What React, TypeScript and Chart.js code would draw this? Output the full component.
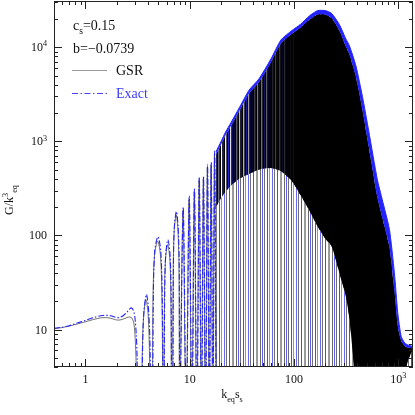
import React, { useEffect, useRef } from "react";
import { Chart, registerables } from "chart.js";
Chart.register(...registerables);

// ---- data ----
const gsrX = [0.5, 0.6, 0.7, 0.85, 1.0, 1.2, 1.4, 1.55, 1.75, 1.95, 2.1, 2.3, 2.5, 2.65, 2.8, 2.92, 3.0, 3.06, 3.12,
  3.42, 3.5, 3.6, 3.8, 4.0, 4.12, 4.2,
  4.35, 4.45, 4.6, 4.93, 5.25, 5.42, 5.55,
  5.62, 5.72, 5.85, 6.15, 6.45, 6.6, 6.7,
  6.82, 6.95, 7.1, 7.42, 7.72, 7.9, 8.0,
  8.62, 9.22, 9.85, 10.45, 11.05, 11.67, 12.3, 12.9, 13.5, 14.12, 14.75, 15.37, 16.0, 16.62, 17.25, 17.9];
const gsrY = [10.2, 10.5, 10.9, 11.5, 12.1, 12.8, 13.3, 13.4, 13.2, 12.7, 12.6, 12.9, 13.4, 13.6, 13.2, 11.5, 8.0, 4.5, 1,
  1, 5, 13, 20.8, 14, 5, 1,
  1, 22, 62, 87, 60, 20, 1,
  1, 20, 55, 80, 55, 20, 1,
  1, 45, 115, 165, 110, 40, 1,
  185, 1, 240, 1, 290, 1, 390, 1, 400, 1, 530, 1, 560, 1, 740, 1];

const exactX = [0.5, 0.6, 0.7, 0.85, 1.0, 1.2, 1.4, 1.55, 1.75, 1.95, 2.1, 2.3, 2.5, 2.65, 2.75, 2.88, 2.98, 3.07, 3.13, 3.2,
  3.45, 3.53, 3.63, 3.85, 4.05, 4.17, 4.25,
  4.38, 4.48, 4.63, 4.96, 5.28, 5.45, 5.58,
  5.65, 5.75, 5.88, 6.18, 6.48, 6.63, 6.73,
  6.85, 6.98, 7.13, 7.45, 7.75, 7.93, 8.03,
  8.66, 9.26, 9.9, 10.5, 11.1, 11.72, 12.35, 12.95, 13.56, 14.18, 14.82, 15.43, 16.07, 16.68, 17.32, 17.96];
const exactY = [10.3, 10.6, 11.0, 11.8, 12.5, 13.4, 14.0, 14.2, 14.0, 13.5, 13.4, 14.0, 15.3, 16.5, 17.0, 16.0, 13.5, 9, 5, 1,
  1, 6, 15, 23.6, 15, 6, 1,
  1, 25, 70, 97, 68, 22, 1,
  1, 22, 62, 90, 62, 22, 1,
  1, 50, 125, 180, 120, 45, 1,
  200, 1, 260, 1, 315, 1, 420, 1, 430, 1, 570, 1, 600, 1, 790, 1];

// dense (unresolved) oscillation region: envelopes
const envX = [17.9, 20, 22, 25, 30, 37, 46, 60, 75, 95, 115, 140, 168, 200, 230, 272, 310, 340, 392, 452, 520, 628, 700, 820, 915, 985, 1062, 1150, 1220, 1380];
const exactEnvY = [780, 1000, 1250, 1600, 2300, 3500, 4600, 7500, 12000, 15000, 17500, 21500, 24500, 24500, 22800, 17400, 12600, 10300, 6300, 3000, 1280, 393, 240, 116, 40, 15.2, 8.5, 7.2, 6.9, 6.6];
const gsrEnvY = [730, 930, 1160, 1480, 2130, 3230, 4250, 6900, 11000, 13800, 16100, 19600, 22300, 22200, 20300, 15000, 10500, 8300, 4800, 2150, 870, 255, 155, 75, 26, 10.8, 7.6, 6.7, 6.45, 6.3];
const denseFloorY = [200, 250, 290, 340, 400, 450, 500, 520, 480, 380, 270, 185, 125, 92, 76, 40, 24, 13, 3, 3, 3, 3, 3, 3, 3, 3, 3, 3, 4.5, 6.2];

const xMajorTicks = [1, 10, 100, 1000];
const xTickBase = ["1", "10", "100", "10"];
const xTickSup = ["", "", "", "3"];
const yMajorTicks = [10, 100, 1000, 10000];
const yTickBase = ["10", "100", "10", "10"];
const yTickSup = ["", "", "3", "4"];

const X_MIN = 0.5, X_MAX = 1380, Y_MIN = 4, Y_MAX = 31000;
const SERIF = '"Liberation Serif", "DejaVu Serif", serif';
const BLUE = "rgb(35,35,255)";

const pts = (xs: number[], ys: number[]) => xs.map((x, i) => ({ x, y: ys[i] }));

function stripePattern(cols: (string | null)[]) {
  const c = document.createElement("canvas");
  c.width = cols.length;
  c.height = 1;
  const g = c.getContext("2d")!;
  cols.forEach((col, i) => {
    if (col) { g.fillStyle = col; g.fillRect(i, 0, 1, 1); }
  });
  return g.createPattern(c, "repeat")!;
}

function textWithScripts(ctx: CanvasRenderingContext2D, parts: { t: string; s?: "sub" | "sup" }[], x: number, y: number, size: number, align: "left" | "center" | "right") {
  const small = size * 0.68;
  let total = 0;
  const widths = parts.map(p => {
    ctx.font = `${p.s ? small : size}px ${SERIF}`;
    const w = ctx.measureText(p.t).width;
    total += w;
    return w;
  });
  let cx = align === "left" ? x : align === "center" ? x - total / 2 : x - total;
  ctx.textAlign = "left";
  parts.forEach((p, i) => {
    ctx.font = `${p.s ? small : size}px ${SERIF}`;
    const dy = p.s === "sub" ? size * 0.3 : p.s === "sup" ? -size * 0.4 : 0;
    ctx.fillText(p.t, cx, y + dy);
    cx += widths[i];
  });
}

const framePlugin = {
  id: "frame",
  afterDatasetsDraw(chart: any) {
    const { ctx, chartArea: a, scales } = chart;
    const xs = scales.x, ys = scales.y;
    ctx.save();
    ctx.strokeStyle = "#222";
    ctx.lineWidth = 1;
    ctx.strokeRect(a.left + 0.5, a.top + 0.5, a.right - a.left - 1, a.bottom - a.top - 1);
    ctx.beginPath();
    for (let e = -1; e <= 4; e++) {
      for (let m = 1; m <= 9; m++) {
        const v = m * Math.pow(10, e);
        if (v >= X_MIN && v <= X_MAX) {
          const px = Math.round(xs.getPixelForValue(v)) + 0.5;
          const len = m === 1 ? 8 : 4;
          ctx.moveTo(px, a.bottom); ctx.lineTo(px, a.bottom - len);
          ctx.moveTo(px, a.top); ctx.lineTo(px, a.top + len);
        }
        if (v >= Y_MIN && v <= Y_MAX) {
          const py = Math.round(ys.getPixelForValue(v)) + 0.5;
          const len = m === 1 ? 8 : 4;
          ctx.moveTo(a.left, py); ctx.lineTo(a.left + len, py);
          ctx.moveTo(a.right, py); ctx.lineTo(a.right - len, py);
        }
      }
    }
    ctx.stroke();

    ctx.fillStyle = "#111";
    ctx.textBaseline = "alphabetic";
    xMajorTicks.forEach((v, i) => {
      const px = xs.getPixelForValue(v);
      const parts: any[] = [{ t: xTickBase[i] }];
      if (xTickSup[i]) parts.push({ t: xTickSup[i], s: "sup" });
      textWithScripts(ctx, parts, px, 383, 12, "center");
    });
    yMajorTicks.forEach((v, i) => {
      const py = ys.getPixelForValue(v);
      const parts: any[] = [{ t: yTickBase[i] }];
      if (yTickSup[i]) parts.push({ t: yTickSup[i], s: "sup" });
      textWithScripts(ctx, parts, 47, py + 4, 12, "right");
    });

    // axis titles
    textWithScripts(ctx, [{ t: "k" }, { t: "eq", s: "sub" }, { t: "s" }, { t: "s", s: "sub" }], 232, 398, 12, "center");
    ctx.save();
    ctx.translate(13, 200);
    ctx.rotate(-Math.PI / 2);
    textWithScripts(ctx, [{ t: "G/k" }, { t: "3", s: "sup" }, { t: "eq", s: "sub" }], 0, 0, 12, "center");
    ctx.restore();

    // legend
    ctx.fillStyle = "#111";
    textWithScripts(ctx, [{ t: "c" }, { t: "s", s: "sub" }, { t: "=0.15" }], 73, 30, 14, "left");
    textWithScripts(ctx, [{ t: "b=\u22120.0739" }], 73, 53, 14, "left");
    ctx.strokeStyle = "rgba(0,0,0,0.4)";
    ctx.lineWidth = 1;
    ctx.beginPath(); ctx.moveTo(72, 70.5); ctx.lineTo(107, 70.5); ctx.stroke();
    textWithScripts(ctx, [{ t: "GSR" }], 116, 75, 14, "left");
    ctx.strokeStyle = "rgb(70,70,255)";
    ctx.setLineDash([6, 2.5, 1.5, 2.5]);
    ctx.beginPath(); ctx.moveTo(72, 93.5); ctx.lineTo(107, 93.5); ctx.stroke();
    ctx.setLineDash([]);
    ctx.fillStyle = "rgb(60,60,255)";
    textWithScripts(ctx, [{ t: "Exact" }], 116, 98, 14, "left");
    ctx.restore();
  },
};

export default function App() {
  const ref = useRef<HTMLCanvasElement>(null);
  useEffect(() => {
    if (!ref.current) return;
    const densePattern = stripePattern([
      "rgb(10,10,60)", "rgb(0,0,0)", "rgb(110,110,130)", "rgb(30,30,200)", "rgb(0,0,0)", null,
      "rgb(40,40,70)", "rgb(20,20,150)", "rgb(0,0,0)", null, "rgb(90,90,110)", "rgb(0,0,40)",
      "rgb(40,40,230)", "rgb(0,0,0)", null, "rgb(60,60,60)", "rgb(10,10,110)", "rgb(0,0,0)",
    ]);
    const sparsePattern = stripePattern([
      "rgba(60,60,60,0.75)", null, null, "rgba(40,40,240,0.85)", null, "rgba(80,80,80,0.6)", null, null,
      "rgba(40,40,240,0.7)", null, "rgba(50,50,50,0.7)", null, null, "rgba(40,40,240,0.85)", null, null,
      "rgba(90,90,90,0.6)", "rgba(60,60,230,0.6)", null, null, "rgba(40,40,40,0.7)", null, "rgba(40,40,240,0.75)", null,
    ]);
    const darkOverlay = (c: any) => {
      const chart = c.chart;
      if (!chart.chartArea || !chart.scales.x) return "rgba(0,0,0,0)";
      const xs = chart.scales.x;
      const g = chart.ctx.createLinearGradient(xs.getPixelForValue(20), 0, xs.getPixelForValue(110), 0);
      g.addColorStop(0, "rgba(0,0,0,0)");
      g.addColorStop(0.5, "rgba(0,0,0,0.55)");
      g.addColorStop(1, "rgba(0,0,0,1)");
      return g;
    };
    const chart = new Chart(ref.current, {
      type: "line",
      data: {
        datasets: [
          { label: "Exact", data: pts(exactX, exactY), borderColor: BLUE, borderWidth: 1.1, borderDash: [6, 2, 1.5, 2], pointRadius: 0, tension: 0.3, fill: false, order: 0 } as any,
          { label: "GSR", data: pts(gsrX, gsrY), borderColor: "rgba(0,0,0,0.55)", borderWidth: 1, pointRadius: 0, tension: 0.3, fill: false, order: 1 } as any,
          { label: "exactEnv", data: pts(envX, exactEnvY), borderColor: BLUE, borderWidth: 1, pointRadius: 0, tension: 0.2, fill: { target: 3 }, backgroundColor: BLUE, order: 4 } as any,
          { label: "gsrEnvOverlay", data: pts(envX, gsrEnvY), borderColor: "rgba(0,0,0,0)", borderWidth: 0, pointRadius: 0, tension: 0.2, fill: { target: 5 }, backgroundColor: darkOverlay, order: 5 } as any,
          { label: "gsrEnv", data: pts(envX, gsrEnvY), borderColor: "rgba(0,0,0,0)", borderWidth: 0, pointRadius: 0, tension: 0.2, fill: { target: 5 }, backgroundColor: densePattern, order: 6 } as any,
          { label: "floor", data: pts(envX, denseFloorY), borderColor: "rgba(0,0,0,0)", borderWidth: 0, pointRadius: 0, tension: 0.2, fill: "start", backgroundColor: sparsePattern, order: 7 } as any,
        ],
      },
      options: {
        animation: false,
        responsive: false,
        layout: { padding: { left: 54, top: 1, right: 2, bottom: 48 } },
        plugins: { legend: { display: false }, tooltip: { enabled: false } },
        scales: {
          x: { type: "logarithmic", min: X_MIN, max: X_MAX, display: false },
          y: { type: "logarithmic", min: Y_MIN, max: Y_MAX, display: false },
        },
      },
      plugins: [framePlugin],
    });
    return () => chart.destroy();
  }, []);
  return (
    <div style={{ position: "absolute", left: 0, top: 0, width: 415, height: 415, background: "#fff" }}>
      <canvas ref={ref} width={415} height={415} />
    </div>
  );
}
